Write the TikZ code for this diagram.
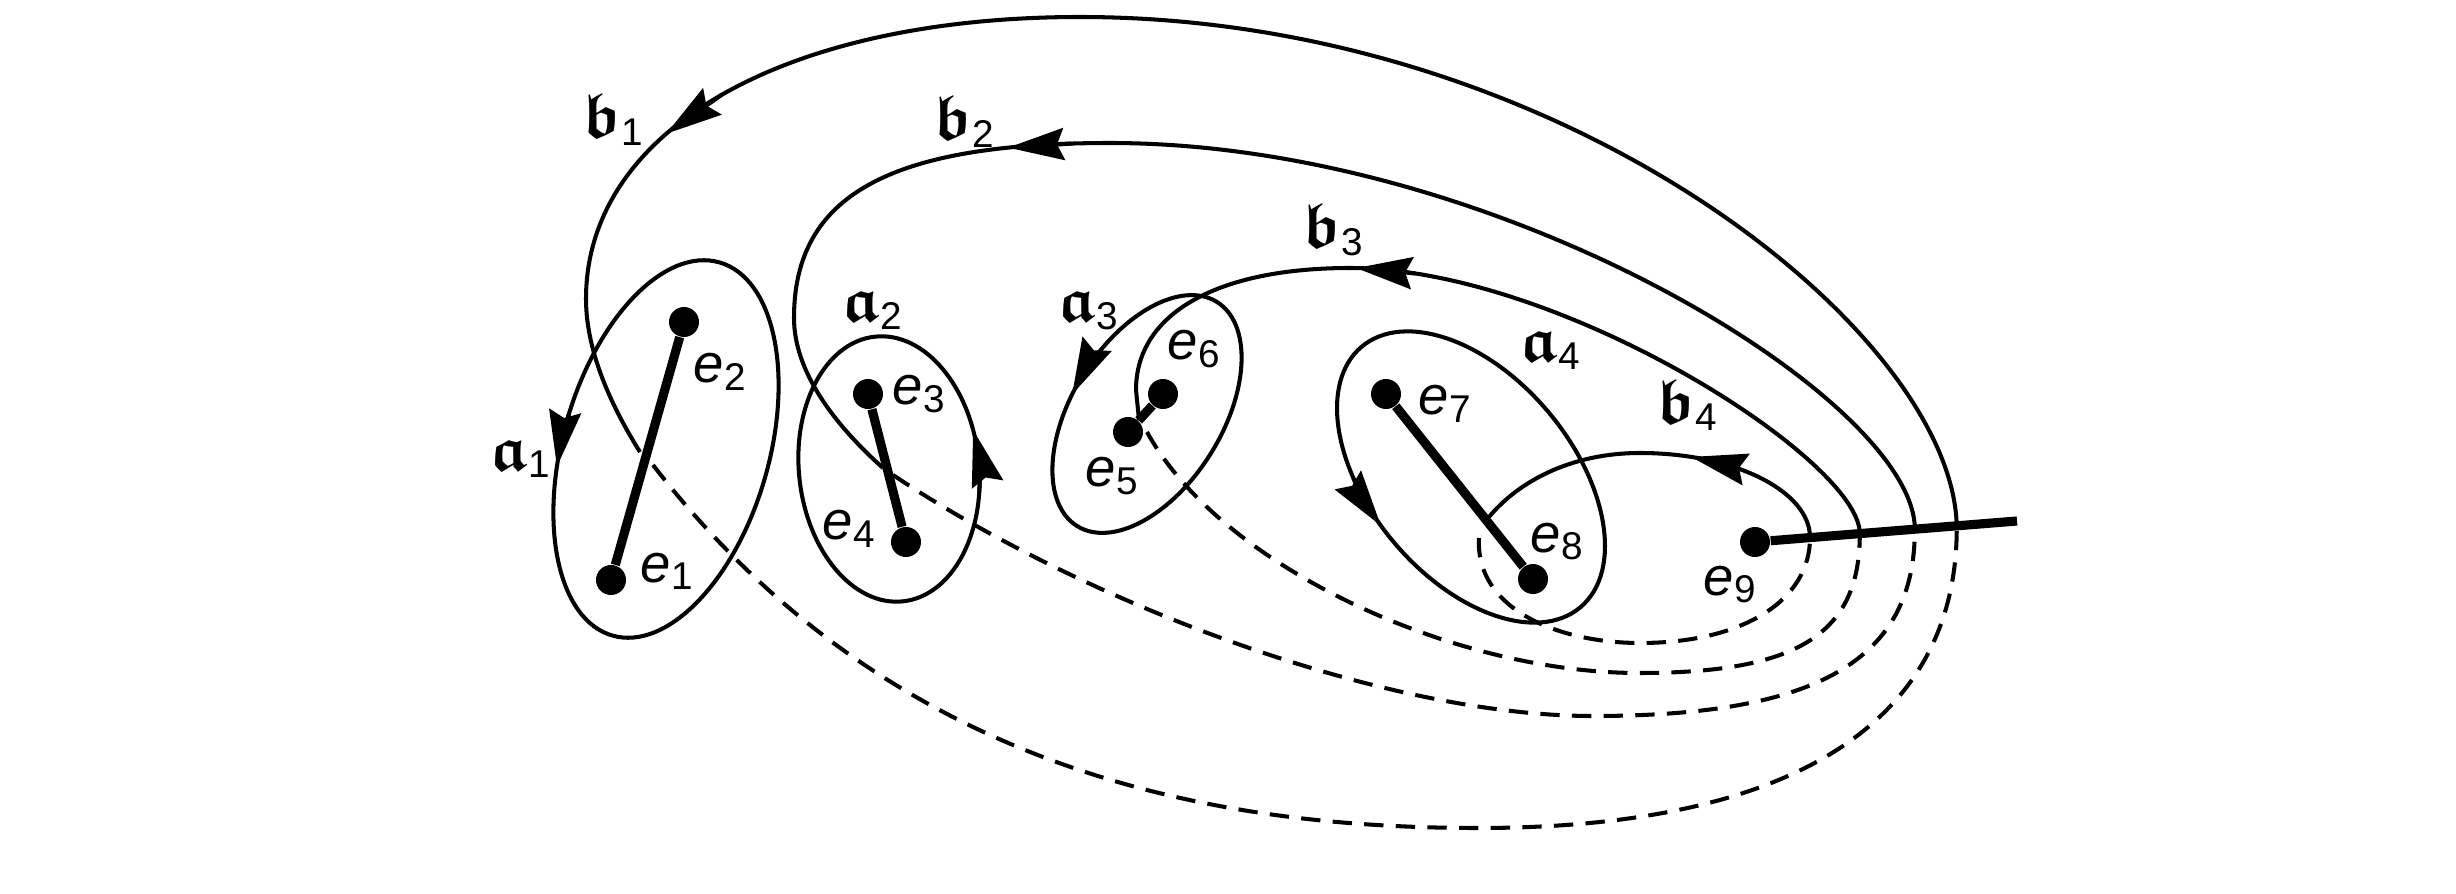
\documentclass[tikz,border=0pt]{standalone}
\usepackage{amsmath}
\usepackage{amssymb}
\usepackage{fontspec}
\setmainfont{Liberation Sans}
\usetikzlibrary{arrows.meta,calc}

\newcommand{\elab}[1]{{\fontsize{15.5}{15.5}\selectfont\itshape e}\raisebox{-2pt}{\fontsize{11}{11}\selectfont #1}}
\newcommand{\flab}[2]{{\fontsize{18}{18}\selectfont\boldmath$\mathfrak{#1}$}\raisebox{-2pt}{\fontsize{11}{11}\selectfont #2}}

\begin{document}
\begin{tikzpicture}[x=0.01cm,y=-0.01cm,
  dot/.style={circle,fill=black,inner sep=0pt,minimum size=0.30cm},
  seg/.style={line width=2.6pt},
  curve/.style={line width=1.15pt},
  hidden/.style={line width=1.15pt,dash pattern=on 5.5pt off 3.5pt},
  tipmark/.style={-{Stealth[length=5.6mm,width=3.2mm,inset=0.7mm]},line width=1.15pt},
  lab/.style={inner sep=0pt,anchor=base west}]
\useasboundingbox (0,0) rectangle (2456,894);

% ellipses (a_i loops)
\draw[curve,shift={(666,449)},rotate=74] (0,0) ellipse [x radius=1.94cm,y radius=1.03cm];
\draw[curve,shift={(889,469)},rotate=96] (0,0) ellipse [x radius=1.33cm,y radius=0.90cm];
\draw[curve,shift={(1147,414)},rotate=58] (0,0) ellipse [x radius=1.32cm,y radius=0.75cm];
\draw[curve,shift={(1471,477)},rotate=130] (0,0) ellipse [x radius=1.70cm,y radius=1.01cm];

% arrowheads on the ellipses
\draw[tipmark,shift={(666,449)},rotate=74] (88:1.94cm and 1.03cm) arc[start angle=88,end angle=104,x radius=1.94cm,y radius=1.03cm];
\draw[tipmark,shift={(889,469)},rotate=96] (-104:1.33cm and 0.90cm) arc[start angle=-104,end angle=-77,x radius=1.33cm,y radius=0.90cm];
\draw[tipmark,shift={(1147,414)},rotate=58] (78:1.32cm and 0.75cm) arc[start angle=78,end angle=100,x radius=1.32cm,y radius=0.75cm];
\draw[tipmark,shift={(1471,477)},rotate=130] (64:1.70cm and 1.01cm) arc[start angle=64,end angle=83,x radius=1.70cm,y radius=1.01cm];

% points
\node[dot] (e1) at (611,580) {};
\node[dot] (e2) at (684,322) {};
\node[dot] (e3) at (868,394) {};
\node[dot] (e4) at (906,542) {};
\node[dot] (e5) at (1128,432) {};
\node[dot] (e6) at (1163,394) {};
\node[dot] (e7) at (1386,394) {};
\node[dot] (e8) at (1533,579) {};
\node[dot] (e9) at (1755,542) {};
\coordinate (tail) at (2017,521);

\coordinate (q1) at ($(e9)!0.77!(tail)$);
\coordinate (q2) at ($(e9)!0.61!(tail)$);
\coordinate (q3) at ($(e9)!0.40!(tail)$);
\coordinate (q4) at ($(e9)!0.21!(tail)$);

% b1
\draw[curve] (q1) .. controls (1952,330) and (1560,17) .. (1080,17)
  .. controls (784,17) and (586,130) .. coordinate[pos=0.5] (b1base) coordinate[pos=0.62] (b1tip) (586,299)
  .. controls (586,355) and (615,412) .. (640,452);
\draw[hidden] (653,465) .. controls (885,765) and (1200,828) .. (1478,828)
  .. controls (1790,828) and (1958,724) .. (q1);
% b2
\draw[curve] (q2) .. controls (1915,400) and (1500,143) .. (1110,143)
  .. controls (889,143) and (794,195.5) .. coordinate[pos=0.06] (b2base) coordinate[pos=0.17] (b2tip) (794,318)
  .. controls (794,372) and (835,425) .. (883,468);
\draw[hidden] (893,475) .. controls (1080,600) and (1380,716) .. (1593,716)
  .. controls (1818,716) and (1915,660) .. (q2);
% b3
\draw[curve] (q3) .. controls (1860,460) and (1560,268) .. coordinate[pos=0.9] (b3base) coordinate[pos=0.99] (b3tip) (1350,268)
  .. controls (1217,268) and (1136,313.6) .. (1136,390) -- (1139,420);
\draw[hidden] (1147,432) .. controls (1219,564) and (1450,673) .. (1639,673)
  .. controls (1798,673) and (1860,634) .. (q3);
% b4
\draw[curve] (q4) .. controls (1810,491) and (1734,453) .. coordinate[pos=0.65] (b4base) coordinate[pos=0.81] (b4tip) (1640,453)
  .. controls (1570,453) and (1515,482.5) .. (1485,522);
\draw[hidden] (1479,538) .. controls (1475,610) and (1560,643) .. (1640,643)
  .. controls (1742,643) and (1810,601) .. (q4);

% arrowheads on the b curves
\draw[tipmark] (b1base) -- (b1tip);
\draw[tipmark] (b2base) -- (b2tip);
\draw[tipmark] (b3base) -- (b3tip);
\draw[tipmark] (b4base) -- (b4tip);

% thick segments
\draw[seg] (e1) -- (e2);
\draw[seg] (e3) -- (e4);
\draw[seg] (e5) -- (e6);
\draw[seg] (e7) -- (e8);
\draw[seg] (e9) -- (tail);

% labels
\node[lab] (le1) at (640,582) {\elab{1}};
\node[lab] (le2) at (693,383) {\elab{2}};
\node[lab] (le3) at (892,405) {\elab{3}};
\node[lab] (le4) at (822,540) {\elab{4}};
\node[lab] (le5) at (1085,487) {\elab{5}};
\node[lab] (le6) at (1167,360) {\elab{6}};
\node[lab] (le7) at (1418,415) {\elab{7}};
\node[lab] (le8) at (1530,552) {\elab{8}};
\node[lab] (le9) at (1703,595) {\elab{9}};

\node[lab] (la1) at (490,470) {\flab{a}{1}};
\node[lab] (lb1) at (583,138) {\flab{b}{1}};
\node[lab] (la2) at (842,322) {\flab{a}{2}};
\node[lab] (lb2) at (934,140) {\flab{b}{2}};
\node[lab] (la3) at (1058,322) {\flab{a}{3}};
\node[lab] (lb3) at (1303,248) {\flab{b}{3}};
\node[lab] (la4) at (1520,362) {\flab{a}{4}};
\node[lab] (lb4) at (1657,423) {\flab{b}{4}};
\end{tikzpicture}
\end{document}
